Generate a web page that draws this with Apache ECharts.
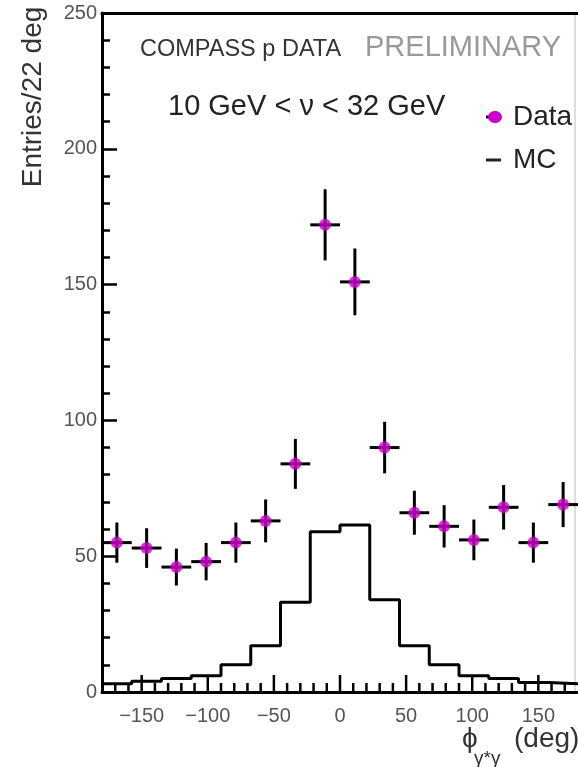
<!DOCTYPE html>
<html>
<head>
<meta charset="utf-8">
<script src="https://cdn.jsdelivr.net/npm/echarts@6.0.0/dist/echarts.min.js"></script>
<style>
html,body{margin:0;padding:0;background:#fff;}
#chart{width:578px;height:767px;}
</style>
</head>
<body>
<div id="chart"></div>
<script>
// ---- data ----
const binCenters = [-168.75, -146.25, -123.75, -101.25, -78.75, -56.25, -33.75, -11.25,
                    11.25, 33.75, 56.25, 78.75, 101.25, 123.75, 146.25, 168.75];
const binWidth = 22.5;
const dataValues = [55, 53, 46, 48, 55, 63, 84, 172, 151, 90, 66, 61, 56, 68, 55, 69];
const dataErrors = [7.4, 7.3, 6.8, 6.9, 7.4, 7.9, 9.2, 13.1, 12.3, 9.5, 8.1, 7.8, 7.5, 8.2, 7.4, 8.3];
const mcValues = [3, 4, 5, 6, 10, 17, 33, 59, 61.5, 34, 17, 10, 6, 5, 3.5, 3];
const xMajorTicks = [-150, -100, -50, 0, 50, 100, 150];
const xMinorTicks = [-170, -160, -140, -130, -120, -110, -90, -80, -70, -60, -40, -30, -20, -10,
                     10, 20, 30, 40, 60, 70, 80, 90, 110, 120, 130, 140, 160, 170];

const FONT = '"Liberation Sans", Arial, Helvetica, sans-serif';
const MAGENTA = '#cc00cc';

// histogram step data built from bin edges
const mcStep = binCenters.map((c, i) => [c - binWidth / 2, mcValues[i]]);
mcStep.push([binCenters[binCenters.length - 1] + binWidth / 2, mcValues[mcValues.length - 1]]);
const dataPts = binCenters.map((c, i) => [c, dataValues[i], dataErrors[i]]);

const chart = echarts.init(document.getElementById('chart'), null, {renderer: 'canvas'});

const baseGraphic = [
  {type: 'text', x: 33, y: 97, rotation: Math.PI / 2,
   style: {text: 'Entries/22 deg', font: '28px ' + FONT, fill: '#333', textAlign: 'center', textVerticalAlign: 'middle'}},
  {type: 'text', x: 140, y: 50,
   style: {text: 'COMPASS p DATA', font: '23.5px ' + FONT, fill: '#333', textAlign: 'left', textVerticalAlign: 'middle'}},
  {type: 'text', x: 365, y: 48,
   style: {text: 'PRELIMINARY', font: '29px ' + FONT, fill: '#999', textAlign: 'left', textVerticalAlign: 'middle'}},
  {type: 'text', x: 168, y: 107,
   style: {text: '10 GeV < \u03bd < 32 GeV', font: '29px ' + FONT, fill: '#222', textAlign: 'left', textVerticalAlign: 'middle'}},
  // legend
  {type: 'line', shape: {x1: 486, y1: 117, x2: 494, y2: 117}, style: {stroke: '#000', lineWidth: 3}},
  {type: 'ellipse', shape: {cx: 495, cy: 117, rx: 7, ry: 6}, style: {fill: MAGENTA}},
  {type: 'text', x: 513, y: 117,
   style: {text: 'Data', font: '28px ' + FONT, fill: '#222', textAlign: 'left', textVerticalAlign: 'middle'}},
  {type: 'line', shape: {x1: 486, y1: 160, x2: 501, y2: 160}, style: {stroke: '#222', lineWidth: 3}},
  {type: 'text', x: 513, y: 160,
   style: {text: 'MC', font: '28px ' + FONT, fill: '#222', textAlign: 'left', textVerticalAlign: 'middle'}},
  // x title
  {type: 'text', x: 462, y: 739,
   style: {text: '\u03d5', font: '28px ' + FONT, fill: '#333', textAlign: 'left', textVerticalAlign: 'middle'}},
  {type: 'text', x: 474, y: 759,
   style: {text: '\u03b3*\u03b3', font: '19px ' + FONT, fill: '#333', textAlign: 'left', textVerticalAlign: 'middle'}},
  {type: 'text', x: 514, y: 739,
   style: {text: '(deg)', font: '28px ' + FONT, fill: '#333', textAlign: 'left', textVerticalAlign: 'middle'}},
  // thin right frame edge
  {type: 'line', shape: {x1: 575, y1: 13, x2: 575, y2: 692}, style: {stroke: '#bbb', lineWidth: 1}}
];

const option = {
  animation: false,
  backgroundColor: '#fff',
  grid: {left: 102, right: 0, top: 13, bottom: 75, containLabel: false},
  xAxis: [
    {
      type: 'value', min: -180, max: 180, position: 'bottom',
      axisLine: {show: true, onZero: false, lineStyle: {color: '#000', width: 3}},
      axisTick: {show: false},
      axisLabel: {customValues: xMajorTicks, fontSize: 20, color: '#555', fontFamily: FONT, margin: 14,
                  formatter: v => (v < 0 ? '\u2212' + Math.abs(v) : String(v))},
      splitLine: {show: false}
    },
    {
      type: 'value', min: -180, max: 180, position: 'top',
      axisLine: {onZero: false, lineStyle: {color: '#000', width: 3}},
      axisTick: {show: false}, axisLabel: {show: false}, splitLine: {show: false}
    }
  ],
  yAxis: {
    type: 'value', min: 0, max: 250, interval: 50,
    axisLine: {show: true, onZero: false, lineStyle: {color: '#000', width: 3}},
    axisTick: {inside: true, length: 15, lineStyle: {color: '#000', width: 2.5}},
    minorTick: {show: true, splitNumber: 5, length: 8, lineStyle: {color: '#000', width: 2.5}},
    axisLabel: {fontSize: 20, color: '#555', fontFamily: FONT, margin: 5},
    splitLine: {show: false}
  },
  series: [
    {
      name: 'MC', type: 'line', xAxisIndex: 0, yAxisIndex: 0, step: 'end', data: mcStep,
      symbol: 'none', lineStyle: {color: '#000', width: 3}, z: 2
    },
    {
      name: 'DataErr', type: 'custom', xAxisIndex: 0, data: dataPts, z: 3,
      renderItem: function (params, api) {
        const x = api.value(0), y = api.value(1), e = api.value(2);
        const c = api.coord([x, y]);
        const t = api.coord([x, y + e]);
        const b = api.coord([x, y - e]);
        const l = api.coord([x - binWidth / 2, y]);
        const r = api.coord([x + binWidth / 2, y]);
        const st = {stroke: '#000', lineWidth: 3};
        return {type: 'group', children: [
          {type: 'line', shape: {x1: c[0], y1: t[1], x2: c[0], y2: b[1]}, style: st},
          {type: 'line', shape: {x1: l[0], y1: c[1], x2: r[0], y2: c[1]}, style: st}
        ]};
      }
    },
    {
      name: 'Data', type: 'scatter', xAxisIndex: 0, data: dataPts.map(p => [p[0], p[1]]),
      symbol: 'circle', symbolSize: 12, itemStyle: {color: MAGENTA}, z: 4
    }
  ],
  graphic: baseGraphic
};
chart.setOption(option);

// x-axis tick marks, placed through the chart's own x scale (series 0 = xAxis 0 / yAxis 0)
function tickMarks(values, len) {
  return values.map(v => {
    const p = chart.convertToPixel({seriesIndex: 0}, [v, 0]);
    return {type: 'line', z: 100,
            shape: {x1: p[0], y1: p[1], x2: p[0], y2: p[1] - len},
            style: {stroke: '#000', lineWidth: 2.5}};
  });
}
chart.setOption({graphic: baseGraphic.concat(tickMarks(xMajorTicks, 17), tickMarks(xMinorTicks, 9))});
</script>
</body>
</html>
